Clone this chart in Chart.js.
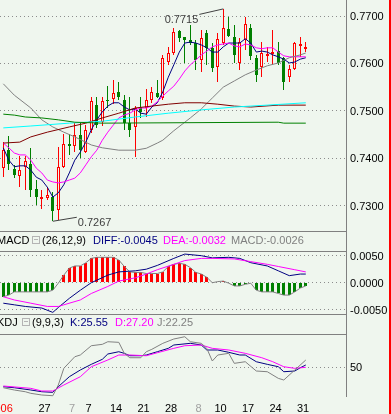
<!DOCTYPE html>
<html><head><meta charset="utf-8">
<script src="https://cdn.jsdelivr.net/npm/chart.js"></script>
<style>
html,body{margin:0;padding:0;background:#eff6ee;}
#wrap{position:relative;width:391px;height:414px;overflow:hidden;background:#eff6ee;font-family:"Liberation Sans",Arial,sans-serif;font-size:11px;}
canvas{position:absolute;left:0;}
.t{position:absolute;white-space:nowrap;line-height:13px;font-size:11px;}
.ln{position:absolute;background:#808080;}
.box{position:absolute;width:6px;height:6px;border:1px solid #b4b4b4;}
.box:after{content:"";position:absolute;left:1px;top:2px;width:4px;height:1px;background:#b4b4b4;}
</style></head>
<body><div id="wrap">
<canvas id="cMain" style="top:0" width="391" height="230"></canvas>
<canvas id="cMacd" style="top:251px" width="391" height="63"></canvas>
<canvas id="cKdj" style="top:334px" width="391" height="80"></canvas>

<div class="ln" style="left:0;top:231px;width:346px;height:1px"></div>
<div class="ln" style="left:0;top:251px;width:346px;height:1px"></div>
<div class="ln" style="left:0;top:314px;width:346px;height:1px"></div>
<div class="ln" style="left:0;top:334px;width:346px;height:1px"></div>
<div class="ln" style="left:346px;top:0;width:1px;height:397px"></div>
<div style="position:absolute;left:389px;top:0;width:2px;height:414px;background:#ff0000"></div>

<span class="t" style="left:-3px;top:234px;color:#000">MACD</span>
<div class="box" style="left:32px;top:236px"></div>
<span class="t" style="left:42px;top:234px;color:#000">(26,12,9)</span>
<span class="t" style="left:93px;top:234px;color:#000080">DIFF:-0.0045</span>
<span class="t" style="left:163px;top:234px;color:#ff00ff">DEA:-0.0032</span>
<span class="t" style="left:231px;top:234px;color:#808080">MACD:-0.0026</span>

<span class="t" style="left:-3px;top:316px;color:#000">KDJ</span>
<div class="box" style="left:22px;top:318px"></div>
<span class="t" style="left:32px;top:316px;color:#000">(9,9,3)</span>
<span class="t" style="left:70px;top:316px;color:#000080">K:25.55</span>
<span class="t" style="left:115px;top:316px;color:#ff00ff">D:27.20</span>
<span class="t" style="left:157px;top:316px;color:#808080">J:22.25</span>
</div>
<script>
// ---------- data ----------
const OPEN  = [0.7379,0.7417,0.7377,0.7362,0.7381,0.7388,0.7335,0.7314,0.7316,0.7318,
               0.7291,0.7381,0.7430,0.7426,0.7449,0.7413,0.7459,0.7512,0.7476,0.7523,
               0.7525,0.7540,0.7523,0.7474,0.7466,0.7508,0.7506,0.7523,0.7538,0.7527,
               0.7603,0.7622,0.7668,0.7656,0.7649,0.7643,0.7607,0.7664,0.7632,0.7592,
               0.7643,0.7673,0.7656,0.7601,0.7649,0.7675,0.7611,0.7592,0.7616,0.7620,
               0.7626,0.7611,0.7571,0.7588,0.7637,0.7630];
const HIGH  = [0.7435,0.7447,0.7386,0.7405,0.7405,0.7421,0.7354,0.7333,0.7339,0.7329,
               0.7424,0.7451,0.7451,0.7474,0.7474,0.7470,0.7529,0.7529,0.7529,0.7552,
               0.7565,0.7561,0.7533,0.7529,0.7510,0.7529,0.7546,0.7550,0.7565,0.7618,
               0.7635,0.7675,0.7670,0.7656,0.7681,0.7649,0.7670,0.7670,0.7643,0.7664,
               0.7715,0.7698,0.7681,0.7654,0.7698,0.7683,0.7618,0.7645,0.7635,0.7670,
               0.7645,0.7613,0.7597,0.7645,0.7656,0.7645];
const LOW   = [0.7361,0.7375,0.7358,0.7339,0.7333,0.7318,0.7301,0.7293,0.7312,0.7267,
               0.7270,0.7379,0.7407,0.7413,0.7400,0.7411,0.7453,0.7464,0.7468,0.7506,
               0.7514,0.7523,0.7460,0.7445,0.7403,0.7485,0.7487,0.7516,0.7527,0.7523,
               0.7597,0.7618,0.7645,0.7601,0.7639,0.7586,0.7582,0.7597,0.7582,0.7561,
               0.7639,0.7656,0.7601,0.7586,0.7628,0.7607,0.7561,0.7571,0.7603,0.7597,
               0.7597,0.7544,0.7561,0.7586,0.7613,0.7624];
const CLOSE = [0.7417,0.7388,0.7365,0.7375,0.7394,0.7333,0.7318,0.7318,0.7322,0.7289,
               0.7381,0.7430,0.7426,0.7449,0.7417,0.7459,0.7521,0.7470,0.7521,0.7521,
               0.7538,0.7529,0.7474,0.7460,0.7506,0.7497,0.7523,0.7540,0.7529,0.7611,
               0.7622,0.7666,0.7654,0.7649,0.7643,0.7607,0.7654,0.7632,0.7590,0.7651,
               0.7675,0.7658,0.7618,0.7645,0.7683,0.7616,0.7576,0.7622,0.7620,0.7624,
               0.7601,0.7561,0.7588,0.7643,0.7641,0.7635];

const MA_NAVY = [0.7422,0.7396,0.7382,0.7384,0.7384,0.7375,0.7360,0.7354,0.7339,0.7318,
                 0.7327,0.7344,0.7369,0.7396,0.7413,0.7434,0.7460,0.7481,0.7498,0.7510,
                 0.7517,0.7517,0.7508,0.7502,0.7504,0.7495,0.7493,0.7508,0.7517,0.7540,
                 0.7571,0.7597,0.7624,0.7643,0.7645,0.7643,0.7639,0.7633,0.7624,0.7624,
                 0.7635,0.7643,0.7643,0.7643,0.7652,0.7643,0.7624,0.7626,0.7624,0.7618,
                 0.7614,0.7609,0.7601,0.7603,0.7609,0.7612];
const MA_MAGENTA = [0.7432,0.7422,0.7411,0.7407,0.7407,0.7396,0.7379,0.7369,0.7354,0.7350,
                 0.7348,0.7350,0.7354,0.7358,0.7369,0.7386,0.7403,0.7417,0.7438,0.7455,
                 0.7470,0.7485,0.7491,0.7495,0.7502,0.7506,0.7506,0.7510,0.7519,0.7531,
                 0.7542,0.7552,0.7567,0.7584,0.7597,0.7607,0.7618,0.7626,0.7635,0.7639,
                 0.7641,0.7643,0.7637,0.7635,0.7641,0.7639,0.7633,0.7631,0.7633,0.7633,
                 0.7624,0.7616,0.7614,0.7614,0.7614,0.7614];
// [candle index, price]
const MA_GREY = [[0,0.7557],[2,0.7533],[5,0.7506],[7,0.7481],[9,0.7466],[11,0.7455],[13,0.7445],
                 [16,0.7428],[18,0.7422],[21,0.7417],[24,0.7417],[26,0.7421],[28,0.7432],[29,0.7438],
                 [31,0.7458],[33,0.7476],[34,0.7485],[36,0.7504],[38,0.7527],[40,0.7550],[42,0.7563],
                 [44,0.7576],[46,0.7586],[48,0.7595],[50,0.7601],[52,0.7612],[54,0.7618],[55,0.7622]];
const MA_MAROON = [[0,0.7432],[3,0.7434],[5,0.7445],[8,0.7455],[12,0.7466],[15,0.7474],[18,0.7485],
                   [21,0.7495],[24,0.7506],[27,0.7510],[30,0.7514],[33,0.7517],[36,0.7517],[39,0.7514],
                   [42,0.7510],[45,0.7508],[50,0.7512],[55,0.7512]];
const MA_CYAN = [[0,0.7464],[5,0.7468],[12,0.7474],[18,0.7478],[24,0.7487],[30,0.7495],[36,0.7502],
                 [42,0.7508],[48,0.7512],[55,0.7517]];
const MA_GREEN = [[0,0.7493],[2,0.7491],[4,0.7487],[7,0.7485],[10,0.7481],[13,0.7476],[18,0.7474],
                  [50,0.7476],[51,0.7474],[55,0.7474]];

const MACD_HIST = [-0.0026,-0.0023,-0.0017,-0.0017,-0.0017,-0.0017,-0.0017,-0.0017,-0.0017,-0.0014,
                   -0.0001,0.0014,0.0027,0.0031,0.0031,0.0037,0.0045,0.0047,0.0047,0.0047,
                   0.0047,0.0042,0.0030,0.0020,0.0019,0.0019,0.0017,0.0017,0.0017,0.0020,
                   0.0030,0.0034,0.0036,0.0034,0.0028,0.0019,0.0016,0.0010,0.0000,0.0002,
                   0.0003,-0.0001,-0.0006,-0.0006,-0.0003,-0.0001,-0.0014,-0.0017,-0.0017,-0.0017,
                   -0.0020,-0.0023,-0.0023,-0.0017,-0.0010,-0.0006];
const MACD_DIFF = [[0,-0.0038],[2,-0.0041],[4,-0.0044],[7,-0.0047],[9,-0.0055],[10,-0.0046],[12,-0.0029],
                   [14,-0.0014],[16,0.0000],[19,0.0014],[21,0.0020],[24,0.0022],[26,0.0025],[28,0.0032],
                   [31,0.0045],[33,0.0053],[36,0.0050],[38,0.0046],[41,0.0047],[43,0.0045],[45,0.0037],
                   [48,0.0031],[50,0.0022],[52,0.0013],[54,0.0016],[55,0.0016]];
const MACD_DEA = [[0,-0.0026],[2,-0.0032],[5,-0.0038],[8,-0.0044],[10,-0.0044],[11,-0.0041],[14,-0.0032],
                  [16,-0.0020],[19,-0.0007],[21,0.0003],[24,0.0009],[26,0.0016],[28,0.0024],[31,0.0034],
                  [33,0.0041],[36,0.0045],[38,0.0045],[42,0.0044],[45,0.0039],[48,0.0034],[50,0.0030],
                  [53,0.0024],[55,0.0020]];

const KDJ_K = [[0,20.9],[2,19.4],[5,16.0],[7,13.4],[9,12.5],[10,20.9],[12,35.9],[14,46],[16,54.5],[18,62],
               [19,70],[21,73.4],[22,71],[23,67.4],[25,67.4],[26,68.5],[28,73.4],[30,78.5],[31,83.5],[34,86],
               [36,83.5],[37,76],[39,76],[41,72.5],[43,68.5],[44,68.5],[46,58.4],[48,54.5],[50,50.9],[51,43.4],
               [53,44.5],[54,49.4],[55,53.5]];
const KDJ_D = [[0,22],[5,18.5],[7,14.5],[9,14.5],[11,23.5],[14,35.9],[16,50.9],[19,61],[21,68.5],[23,68.5],
               [26,67.4],[28,71.9],[31,78.5],[33,82.4],[36,83.5],[38,78.5],[41,76],[44,71],[47,64.4],[49,58.4],
               [51,50.9],[53,48.5],[55,50]];
const KDJ_J = [[0,19.4],[2,16],[4,13.4],[5,11],[7,8.5],[9,7.4],[10,23.5],[11,48.5],[13,65.9],[14,68.5],
               [16,82.4],[18,84.5],[19,88.4],[21,87.5],[22,71],[23,64.4],[25,64.4],[26,73.4],[27,77],[29,86],
               [31,92.5],[33,95.9],[34,88.4],[36,86],[37,78.5],[38,59.5],[39,68.5],[41,71],[42,56],[44,58.4],
               [46,44.5],[48,43.4],[50,33.5],[51,31],[53,46],[55,61]];

const PRICE_TICKS = [0.73,0.74,0.75,0.76,0.77];
const MACD_TICKS = [-0.005,0,0.005];
const KDJ_TICKS = [50];
const DATE_LABELS = ['2006','27','7','7','14','21','28','8','10','17','24','31'];
const DATE_INDEX  = [0,8,13,16,21,26,31,36,40,45,50,55];
const DATE_COLORS = ['#ff0000','#000000','#a0a0a0','#000000','#000000','#000000','#000000','#a0a0a0','#000000','#000000','#000000','#000000'];
const NOTES = [{idx:40, price:0.7715, text:'0.7715', side:'left'},
               {idx:9,  price:0.7267, text:'0.7267', side:'right'}];

// ---------- setup ----------
const BG = '#eff6ee';
const RED = '#ff0000', GREEN = '#008000';
Chart.defaults.font.family = '"Liberation Sans", Arial, sans-serif';
Chart.defaults.font.size = 11;
Chart.defaults.color = '#000';
const X_MIN = -0.6, X_MAX = 62.31;

const pts = arr => arr.map(p => ({x:p[0], y:p[1]}));
const series = arr => arr.map((v,i) => ({x:i, y:v}));
const line = (data,color) => ({type:'line', data, borderColor:color, borderWidth:1, pointRadius:0, fill:false, tension:0, order:0});

const snap = {
  id:'snap',
  beforeDatasetsDraw(chart){
    chart.data.datasets.forEach((ds,di)=>{
      if ((ds.type||chart.config.type)!=='bar') return;
      chart.getDatasetMeta(di).data.forEach(el=>{
        const odd = Math.round(el.width)%2===1;
        el.x = odd ? Math.floor(el.x)+0.5 : Math.round(el.x);
        el.y = Math.round(el.y); el.base = Math.round(el.base);
      });
    });
  }
};

function yAxis(min,max,ticks,fmt){
  return {type:'linear', position:'right', min, max, bounds:'data',
    grid:{color:'#8c8c8c', drawTicks:false, lineWidth:1},
    border:{display:false, dash:[1,3]},
    afterBuildTicks: s => { s.ticks = ticks.map(v=>({value:v})); },
    afterFit: s => { s.width = 45; s.paddingTop = 0; s.paddingBottom = 0; },
    ticks:{padding:4, labelOffset:1, color:'#000', font:{size:11}, callback: fmt}};
}
const xHidden = {type:'linear', min:X_MIN, max:X_MAX, bounds:'data', offset:false, grid:{offset:false}, display:false};
const baseOpts = {responsive:false, animation:false, events:[], devicePixelRatio:1,
  layout:{padding:0}, plugins:{legend:{display:false}, tooltip:{enabled:false}}};

// ---------- main chart ----------
const idx = OPEN.map((_,i)=>i);
const isUp = i => CLOSE[i] >= OPEN[i];
const upI = idx.filter(isUp), dnI = idx.filter(i=>!isUp(i));
const barCommon = {grouped:false, inflateAmount:0, borderSkipped:false, minBarLength:1};

const notesPlugin = {
  id:'notes',
  afterDatasetsDraw(chart){
    const {ctx, scales:{x,y}} = chart;
    ctx.save();
    ctx.strokeStyle = '#404040'; ctx.fillStyle = '#404040'; ctx.lineWidth = 1;
    ctx.font = '11px "Liberation Sans", Arial, sans-serif';
    ctx.textBaseline = 'middle';
    NOTES.forEach(n=>{
      const px = x.getPixelForValue(n.idx), py = y.getPixelForValue(n.price);
      ctx.beginPath();
      if (n.side==='left'){
        ctx.moveTo(px-24, py+5.5); ctx.lineTo(px, py); ctx.stroke();
        ctx.textAlign='right'; ctx.fillText(n.text, px-25, py+11.5);
      } else {
        ctx.moveTo(px, py); ctx.lineTo(px+24, py-4); ctx.stroke();
        ctx.textAlign='left'; ctx.fillText(n.text, px+25, py+2);
      }
    });
    ctx.restore();
  }
};

new Chart(document.getElementById('cMain'), {
  type:'bar',
  data:{datasets:[
    line(pts(MA_GREEN),'#008000'),
    line(pts(MA_CYAN),'#00ffff'),
    line(pts(MA_MAROON),'#800000'),
    line(pts(MA_GREY),'#808080'),
    line(series(MA_MAGENTA),'#ff00ff'),
    line(series(MA_NAVY),'#000080'),
    Object.assign({data: upI.map(i=>({x:i, y:[LOW[i],HIGH[i]]})), backgroundColor:RED, borderWidth:0, barThickness:1, order:3}, barCommon),
    Object.assign({data: dnI.map(i=>({x:i, y:[LOW[i],HIGH[i]]})), backgroundColor:GREEN, borderWidth:0, barThickness:1, order:3}, barCommon),
    Object.assign({data: upI.map(i=>({x:i, y:[OPEN[i],CLOSE[i]]})), backgroundColor:BG, borderColor:RED, borderWidth:1, barThickness:3, order:2}, barCommon),
    Object.assign({data: dnI.map(i=>({x:i, y:[OPEN[i],CLOSE[i]]})), backgroundColor:GREEN, borderWidth:0, barThickness:3, order:2}, barCommon)
  ]},
  options:Object.assign({}, baseOpts, {scales:{
    x: xHidden,
    y: yAxis(0.72486, 0.77338, PRICE_TICKS, v=>v.toFixed(4))
  }}),
  plugins:[snap, notesPlugin]
});

// ---------- MACD ----------
new Chart(document.getElementById('cMacd'), {
  type:'bar',
  data:{datasets:[
    line(pts(MACD_DEA),'#ff00ff'),
    line(pts(MACD_DIFF),'#000080'),
    line(series(MACD_HIST),'#808080'),
    Object.assign({data: series(MACD_HIST).filter(p=>p.y>0), backgroundColor:RED, borderWidth:0, barThickness:3, order:2}, barCommon, {minBarLength:0}),
    Object.assign({data: series(MACD_HIST).filter(p=>p.y<0), backgroundColor:GREEN, borderWidth:0, barThickness:3, order:2}, barCommon, {minBarLength:0})
  ]},
  options:Object.assign({}, baseOpts, {scales:{
    x: xHidden,
    y: yAxis(-0.0058, 0.00587, MACD_TICKS, v=>v.toFixed(4))
  }}),
  plugins:[snap]
});

// ---------- KDJ ----------
new Chart(document.getElementById('cKdj'), {
  type:'line',
  data:{datasets:[
    line(pts(KDJ_J),'#808080'),
    line(pts(KDJ_D),'#ff00ff'),
    line(pts(KDJ_K),'#000080')
  ]},
  options:Object.assign({}, baseOpts, {scales:{
    x:{type:'linear', min:X_MIN, max:X_MAX, bounds:'data', offset:false, position:'bottom',
      grid:{display:false, drawTicks:false}, border:{display:false},
      afterBuildTicks: s => { s.ticks = DATE_INDEX.map(v=>({value:v-0.5})); },
      afterFit: s => { s.height = 17; s.paddingLeft = 0; s.paddingRight = 0; },
      ticks:{autoSkip:false, maxRotation:0, minRotation:0, padding:5, font:{size:11},
        callback:(v,i)=>DATE_LABELS[i], color: c => DATE_COLORS[c.index]}},
    y: yAxis(5.5, 100, KDJ_TICKS, v=>String(v))
  }})
});
</script>
</body></html>
